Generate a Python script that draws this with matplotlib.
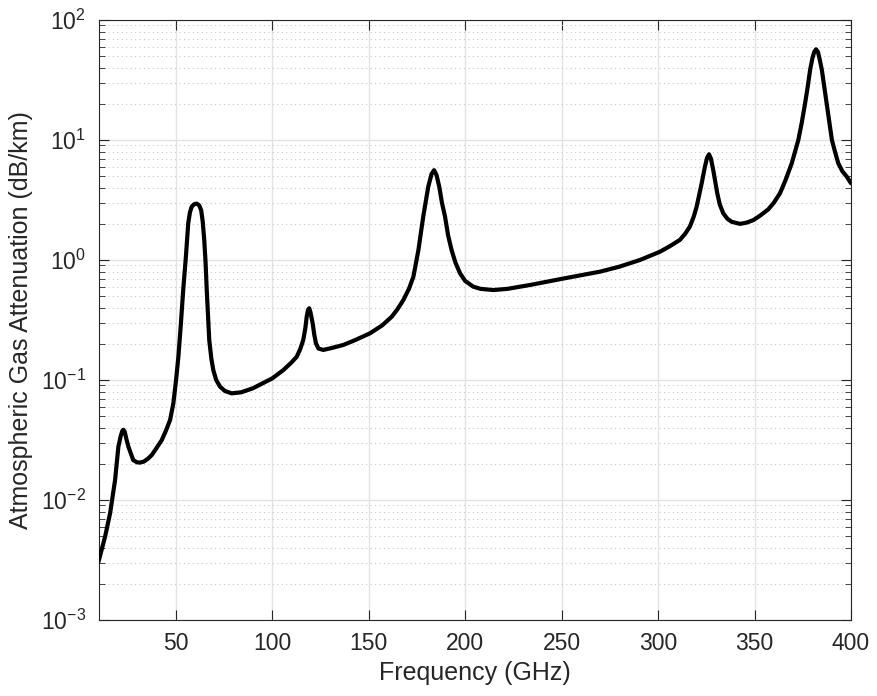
import matplotlib
matplotlib.use("Agg")
import matplotlib.pyplot as plt
from matplotlib.ticker import LogLocator, NullFormatter, FixedLocator

plt.rcParams['font.family'] = ['Liberation Sans', 'DejaVu Sans']
plt.rcParams['mathtext.fontset'] = 'custom'
plt.rcParams['mathtext.rm'] = 'Liberation Sans'
plt.rcParams['mathtext.it'] = 'Liberation Sans:italic'

freq_ghz = [10, 13.4, 16.0, 18.6, 20.3, 21.5, 22.3, 22.9, 23.6, 24.5, 25.5, 28.0,
            30.0, 31.5, 33.5, 35.5, 37.6, 40.0, 42.8, 45.0, 47.1, 48.8, 50.2, 51.4,
            52.6, 53.9, 55.3, 56.5, 57.4, 58.3, 59.6, 60.9, 62.2, 63.2, 64.0, 64.8,
            65.5, 66.1, 66.8, 67.4, 68.5, 69.5, 71.0, 73.0, 75.5, 79.0, 84.0, 90.0,
            100, 105.8, 110, 112.7, 114.5, 116.1, 117.2, 117.9, 118.6, 119.2, 119.8,
            121.0, 121.8, 122.7, 124.0, 126.5, 131, 136.9, 143, 150.7, 157, 162,
            165, 168, 171, 173.2, 175.8, 178.3, 180.9, 182.6, 183.9, 185.2, 186.6,
            188, 189.6, 191.2, 193, 195, 197.4, 200, 204.2, 208, 214.6, 222, 233.6,
            250.8, 270, 280, 290.6, 300.9, 306, 311.3, 314, 316.5, 318.5, 320,
            322.6, 324.3, 325.4, 326.4, 327.4, 328.6, 330.7, 332, 333.8, 336, 338.2,
            342.5, 346, 349.4, 353, 357.1, 360, 363.2, 366, 369.3, 372.7, 374.5,
            376.2, 377.6, 378.8, 380.0, 380.9, 381.9, 382.9, 383.9, 384.9, 386.1,
            387.4, 388.7, 390.1, 391.7, 393.4, 395.5, 397.8, 400]
atten_db_km = [0.00306, 0.00494, 0.00774, 0.0147, 0.0278, 0.034, 0.0375, 0.0385,
               0.037, 0.032, 0.0278, 0.0215, 0.0206, 0.0205, 0.0209, 0.022, 0.0237,
               0.027, 0.0316, 0.038, 0.0464, 0.064, 0.1, 0.156, 0.28, 0.562, 1.07,
               2.02, 2.5, 2.78, 2.92, 2.95, 2.85, 2.6, 2.1, 1.47, 0.95, 0.562, 0.33,
               0.215, 0.15, 0.121, 0.1, 0.088, 0.081, 0.0774, 0.079, 0.0853, 0.103,
               0.121, 0.14, 0.156, 0.18, 0.215, 0.27, 0.337, 0.385, 0.396, 0.37,
               0.297, 0.24, 0.202, 0.183, 0.178, 0.185, 0.196, 0.215, 0.245, 0.285,
               0.337, 0.39, 0.464, 0.58, 0.726, 1.21, 2.30, 4.08, 5.2, 5.6, 5.1,
               4.08, 3.0, 2.30, 1.6, 1.21, 0.95, 0.774, 0.67, 0.60, 0.575, 0.562,
               0.575, 0.619, 0.70, 0.80, 0.88, 1.0, 1.17, 1.3, 1.47, 1.65, 1.90, 2.3,
               2.78, 4.35, 6.0, 7.1, 7.6, 7.0, 5.62, 3.59, 2.9, 2.45, 2.2, 2.08, 2.0,
               2.05, 2.15, 2.35, 2.64, 3.0, 3.6, 4.6, 6.4, 10.0, 14.0, 20.2, 28.0,
               38.3, 48.0, 54.0, 57.0, 54.0, 46.0, 38.3, 28.0, 20.2, 14.0, 10.0, 8.0,
               6.4, 5.5, 4.95, 4.36]

xticks = [50, 100, 150, 200, 250, 300, 350, 400]

fig = plt.figure(figsize=(8.77, 6.96), dpi=100)
ax = fig.add_axes([98.5 / 877, 76 / 696, (851 - 98.5) / 877, 600 / 696])

ax.semilogy(freq_ghz, atten_db_km, color='black', linewidth=3.0,
            solid_joinstyle='round', solid_capstyle='round', zorder=3)

ax.set_xlim(10, 400)
ax.set_ylim(1e-3, 1e2)
ax.xaxis.set_major_locator(FixedLocator(xticks))
ax.yaxis.set_major_locator(LogLocator(base=10, numticks=10))
ax.yaxis.set_minor_locator(LogLocator(base=10, subs=range(2, 10), numticks=20))
ax.yaxis.set_minor_formatter(NullFormatter())

axcol = '#262626'
for s in ax.spines.values():
    s.set_color(axcol)
    s.set_linewidth(0.8)

ax.tick_params(which='both', direction='in', top=True, right=True, colors=axcol,
               labelcolor=axcol)
ax.tick_params(which='major', length=7, width=0.8, labelsize=16.5, pad=9)
ax.tick_params(which='minor', length=4, width=0.6)

ax.grid(True, which='major', axis='both', color='#e3e3e3', linewidth=1.0, zorder=0)
ax.grid(True, which='minor', axis='y', color='#c9c9c9', linewidth=0.8,
        linestyle=(0, (1, 3)), zorder=0)
ax.set_axisbelow(True)

ax.set_xlabel('Frequency (GHz)', fontsize=18, color=axcol, labelpad=4)
ax.set_ylabel('Atmospheric Gas Attenuation (dB/km)', fontsize=18, color=axcol,
              labelpad=6)

fig.savefig('out.png', dpi=100)
